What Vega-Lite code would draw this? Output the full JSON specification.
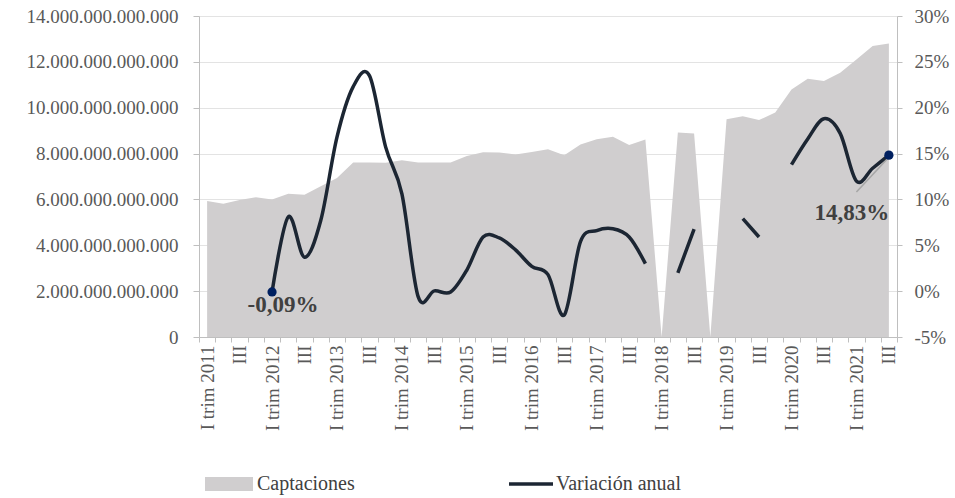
{
  "$schema": "https://vega.github.io/schema/vega-lite/v6.json",
  "width": 698,
  "height": 321,
  "autosize": {"type": "none"},
  "padding": {"left": 199, "top": 16, "right": 58, "bottom": 161},
  "background": "white",
  "config": {
    "locale": {"number": {"decimal": ",", "thousands": ".", "grouping": [3], "currency": ["", ""], "minus": "-"}},
    "view": {"stroke": null},
    "font": "Liberation Serif",
    "axis": {"labelFont": "Liberation Serif", "labelFontSize": 19, "labelColor": "#595959", "domainColor": "#bfbfbf", "tickColor": "#bfbfbf", "gridColor": "#e3e3e3", "title": null}
  },
  "data": {"values": [
    {"q": "2011-1", "cap": 5.93e12, "var": null},
    {"q": "2011-2", "cap": 5.81e12, "var": null},
    {"q": "2011-3", "cap": 5.97e12, "var": null},
    {"q": "2011-4", "cap": 6.09e12, "var": null},
    {"q": "2012-1", "cap": 6.00e12, "var": -0.0009},
    {"q": "2012-2", "cap": 6.25e12, "var": 0.081},
    {"q": "2012-3", "cap": 6.20e12, "var": 0.037},
    {"q": "2012-4", "cap": 6.58e12, "var": 0.077},
    {"q": "2013-1", "cap": 6.94e12, "var": 0.168},
    {"q": "2013-2", "cap": 7.61e12, "var": 0.223},
    {"q": "2013-3", "cap": 7.61e12, "var": 0.235},
    {"q": "2013-4", "cap": 7.60e12, "var": 0.157},
    {"q": "2014-1", "cap": 7.71e12, "var": 0.106},
    {"q": "2014-2", "cap": 7.61e12, "var": -0.006},
    {"q": "2014-3", "cap": 7.61e12, "var": 0.0003},
    {"q": "2014-4", "cap": 7.61e12, "var": -0.001},
    {"q": "2015-1", "cap": 7.89e12, "var": 0.023},
    {"q": "2015-2", "cap": 8.06e12, "var": 0.059},
    {"q": "2015-3", "cap": 8.05e12, "var": 0.058},
    {"q": "2015-4", "cap": 7.96e12, "var": 0.045},
    {"q": "2016-1", "cap": 8.07e12, "var": 0.027},
    {"q": "2016-2", "cap": 8.19e12, "var": 0.018},
    {"q": "2016-3", "cap": 7.93e12, "var": -0.026},
    {"q": "2016-4", "cap": 8.40e12, "var": 0.054},
    {"q": "2017-1", "cap": 8.63e12, "var": 0.066},
    {"q": "2017-2", "cap": 8.73e12, "var": 0.068},
    {"q": "2017-3", "cap": 8.37e12, "var": 0.059},
    {"q": "2017-4", "cap": 8.61e12, "var": 0.030},
    {"q": "2018-1", "cap": 0, "var": null},
    {"q": "2018-2", "cap": 8.92e12, "var": 0.020},
    {"q": "2018-3", "cap": 8.87e12, "var": 0.0675},
    {"q": "2018-4", "cap": 0, "var": null},
    {"q": "2019-1", "cap": 9.50e12, "var": null},
    {"q": "2019-2", "cap": 9.63e12, "var": 0.079},
    {"q": "2019-3", "cap": 9.46e12, "var": 0.059},
    {"q": "2019-4", "cap": 9.79e12, "var": null},
    {"q": "2020-1", "cap": 10.79e12, "var": 0.138},
    {"q": "2020-2", "cap": 11.26e12, "var": 0.166},
    {"q": "2020-3", "cap": 11.17e12, "var": 0.188},
    {"q": "2020-4", "cap": 11.52e12, "var": 0.172},
    {"q": "2021-1", "cap": 12.10e12, "var": 0.120, "lead": 0.108},
    {"q": "2021-2", "cap": 12.69e12, "var": 0.134},
    {"q": "2021-3", "cap": 12.80e12, "var": 0.1483, "lead": 0.146}
  ]},
  "encoding": {
    "x": {
      "field": "q", "type": "ordinal", "sort": null, "bandPosition": 0.5,
      "scale": {"type": "band", "paddingInner": 0, "paddingOuter": 0},
      "axis": {
        "tickBand": "extent", "labelAngle": 270, "labelOverlap": false, "labelBound": false,
        "tickSize": 5, "labelPadding": 3, "grid": false,
        "labelExpr": "split(datum.value,'-')[1] == '1' ? 'I trim ' + split(datum.value,'-')[0] : (split(datum.value,'-')[1] == '3' ? 'III' : '')"
      }
    }
  },
  "layer": [
    {
      "mark": {"type": "area", "opacity": 1, "interpolate": "linear"},
      "encoding": {
        "y": {
          "field": "cap", "type": "quantitative",
          "scale": {"domain": [0, 14000000000000], "nice": false, "zero": true},
          "axis": {"orient": "left", "values": [0, 2000000000000, 4000000000000, 6000000000000, 8000000000000, 10000000000000, 12000000000000, 14000000000000], "format": ",.0f", "grid": true, "tickSize": 6, "labelPadding": 15}
        },
        "color": {
          "datum": "Captaciones",
          "scale": {"range": ["#d0cecf"]},
          "legend": {"orient": "none", "legendX": 6, "legendY": 444, "title": null, "padding": 0,
            "symbolType": "M-1,-0.29L1,-0.29L1,0.29L-1,0.29Z", "symbolSize": 2304, "symbolStrokeWidth": 0, "symbolOpacity": 1,
            "labelFont": "Liberation Serif", "labelFontSize": 20, "labelColor": "#404040", "labelOffset": 4}
        }
      }
    },
    {
      "encoding": {
        "y": {
          "field": "var", "type": "quantitative",
          "scale": {"domain": [-0.05, 0.30], "nice": false, "zero": false},
          "axis": {"orient": "right", "values": [-0.05, 0, 0.05, 0.1, 0.15, 0.2, 0.25, 0.3], "format": ".0%", "grid": false, "tickSize": 5, "labelPadding": 12}
        }
      },
      "layer": [
        {
          "mark": {"type": "line", "interpolate": "cardinal", "strokeWidth": 3.5, "invalid": "break-paths-show-domains"},
          "encoding": {
            "stroke": {
              "datum": "Variación anual",
              "scale": {"range": ["#1c2633"]},
              "legend": {"orient": "none", "legendX": 308, "legendY": 444, "title": null, "padding": 0,
                "symbolType": "stroke", "symbolSize": 1936, "symbolStrokeWidth": 3.5,
                "labelFont": "Liberation Serif", "labelFontSize": 20, "labelColor": "#404040", "labelOffset": 1}
            }
          }
        },
        {
          "transform": [{"filter": "isValid(datum.lead)"}],
          "mark": {"type": "line", "color": "#a6a6a6", "strokeWidth": 1.5},
          "encoding": {"y": {"field": "lead", "type": "quantitative"}}
        },
        {
          "transform": [{"filter": "datum.q == '2021-3' || datum.q == '2012-1'"}],
          "mark": {"type": "point", "filled": true, "size": 85, "color": "#002060", "opacity": 1}
        },
        {
          "transform": [{"filter": "datum.q == '2012-1'"}],
          "mark": {"type": "text", "font": "Liberation Serif", "fontWeight": "bold", "fontSize": 23, "color": "#404040", "dx": 11, "dy": 13, "align": "center", "baseline": "middle"},
          "encoding": {"text": {"field": "var", "type": "quantitative", "format": ".2%"}}
        },
        {
          "transform": [{"filter": "datum.q == '2021-3'"}],
          "mark": {"type": "text", "font": "Liberation Serif", "fontWeight": "bold", "fontSize": 23, "color": "#404040", "dx": -37, "dy": 58, "align": "center", "baseline": "middle"},
          "encoding": {"text": {"field": "var", "type": "quantitative", "format": ".2%"}}
        }
      ]
    }
  ],
  "resolve": {"scale": {"y": "independent"}}
}
